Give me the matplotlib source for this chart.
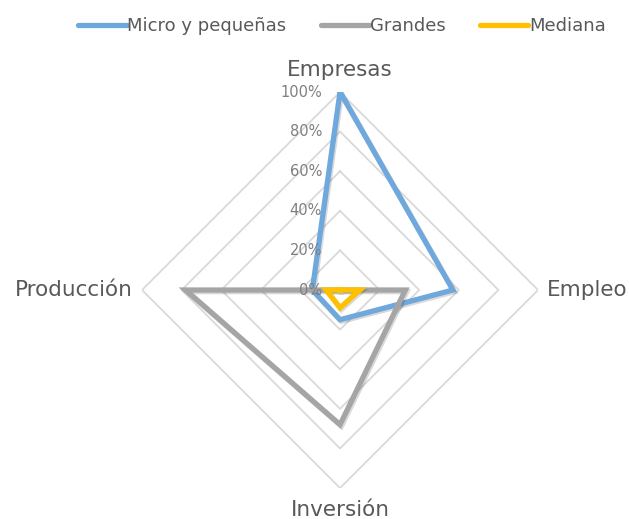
import numpy as np
import matplotlib
matplotlib.use("Agg")
import matplotlib.pyplot as plt
import matplotlib.patheffects as pe

categorias = ["Empresas", "Empleo", "Inversión", "Producción"]
micro      = [1.00, 0.57, 0.15, 0.14]
grandes    = [0.00, 0.33, 0.68, 0.78]
mediana    = [0.00, 0.10, 0.09, 0.07]
niveles    = [0.2, 0.4, 0.6, 0.8, 1.0]
tick_lbls  = ["0%", "20%", "40%", "60%", "80%", "100%"]

series = [("Micro y pequeñas", micro, "#6FA8DC"),
          ("Grandes", grandes, "#A5A5A5"),
          ("Mediana", mediana, "#FFC000")]

txt = "#595959"
plt.rcParams["font.family"] = "DejaVu Sans"

fig = plt.figure(figsize=(6.29, 5.19), dpi=100)
ax = fig.add_axes([0.2258, 0.0597, 0.6296, 0.763], projection="polar")
ax.set_theta_zero_location("N")
ax.set_theta_direction(-1)
ax.set_ylim(0, 1)
ax.grid(False)
ax.set_xticks([])
ax.set_yticks([])
ax.spines["polar"].set_visible(False)
ax.patch.set_alpha(0)

ang = np.linspace(0, 2 * np.pi, len(categorias), endpoint=False)
ang_c = np.append(ang, ang[0])

# rejilla en rombo
for r in niveles:
    ax.plot(ang_c, [r] * len(ang_c), color="#D9D9D9", lw=1.3, zorder=1)

sombra = [pe.SimpleLineShadow(offset=(1.0, -1.2), shadow_color="black", alpha=0.15),
          pe.Normal()]
for nombre, vals, col in series:
    ax.plot(ang_c, vals + vals[:1], color=col, lw=3.8, label=nombre,
            solid_joinstyle="miter", path_effects=sombra, zorder=3)

# etiquetas de porcentaje
for r, t in zip([0] + niveles, tick_lbls):
    ax.annotate(t, xy=(0, r), xytext=(-18, 0), textcoords="offset pixels",
                ha="right", va="center", fontsize=10.5, color="#7F7F7F", zorder=4)

# etiquetas de categorías
ax.text(ang[0], 1.11, categorias[0], ha="center", va="center", fontsize=15.5, color=txt)
ax.text(ang[1], 1.045, categorias[1], ha="left", va="center", fontsize=15.5, color=txt)
ax.text(ang[2], 1.11, categorias[2], ha="center", va="center", fontsize=15.5, color=txt)
ax.text(ang[3], 1.045, categorias[3], ha="right", va="center", fontsize=15.5, color=txt)

leg = fig.legend(loc="center", bbox_to_anchor=(0.5437, 0.95), ncol=3, frameon=False,
                 fontsize=13, handlelength=2.66, handletextpad=0.05, columnspacing=1.9,
                 labelcolor=txt)
for h in leg.get_lines():
    h.set_linewidth(3.8)
    h.set_solid_capstyle("round")
    h.set_path_effects([])

fig.savefig("out.png", dpi=100)
